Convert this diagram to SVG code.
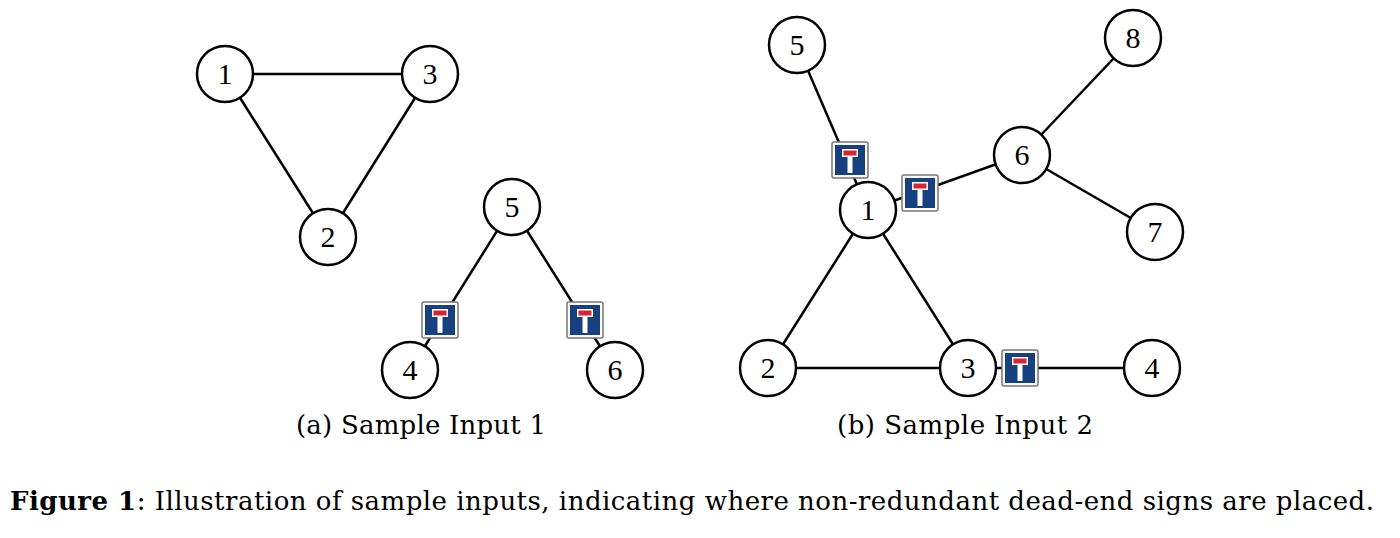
<svg xmlns="http://www.w3.org/2000/svg" width="1400" height="538" viewBox="0 0 1400 538">
<defs>
<style>
.n circle{fill:#fff;stroke:#000;stroke-width:2.5}
.n text{font-family:"Liberation Serif",serif;font-size:30px;text-anchor:middle}
.e line{stroke:#000;stroke-width:2.5}
.cap{font-family:"DejaVu Serif",serif;font-size:26px;text-anchor:middle}
</style>
<g id="sign">
<rect x="-18" y="-18" width="36" height="36" rx="2" fill="#fff" stroke="#777" stroke-width="1.5"/>
<rect x="-15" y="-15" width="30" height="30" fill="#17407e"/>
<rect x="-8" y="-11" width="16" height="8" fill="#fff"/>
<rect x="-6.5" y="-9.5" width="13" height="5" fill="#d9232e"/>
<rect x="-2.5" y="-3" width="5" height="16" fill="#fff"/>
</g>
</defs>
<rect width="1400" height="538" fill="#fff"/>
<g id="connectors" class="e">
<line x1="225" y1="74" x2="430" y2="74"/>
<line x1="225" y1="74" x2="328" y2="237"/>
<line x1="430" y1="74" x2="328" y2="237"/>
<line x1="512" y1="207" x2="410" y2="370"/>
<line x1="512" y1="207" x2="615" y2="370"/>
<line x1="797" y1="45" x2="868" y2="210"/>
<line x1="1133" y1="38" x2="1022" y2="155"/>
<line x1="868" y1="210" x2="1022" y2="155"/>
<line x1="1022" y1="155" x2="1155" y2="232"/>
<line x1="868" y1="210" x2="768" y2="368"/>
<line x1="868" y1="210" x2="968" y2="368"/>
<line x1="768" y1="368" x2="968" y2="368"/>
<line x1="968" y1="368" x2="1152" y2="368"/>
</g>
<g id="signs">
<use href="#sign" x="440" y="320"/>
<use href="#sign" x="585" y="320"/>
<use href="#sign" x="850" y="160"/>
<use href="#sign" x="920" y="193"/>
<use href="#sign" x="1020" y="368"/>
</g>
<g id="a1" class="n"><circle cx="225" cy="74" r="28"/><text x="225" y="84">1</text></g>
<g id="a3" class="n"><circle cx="430" cy="74" r="28"/><text x="430" y="84">3</text></g>
<g id="a2" class="n"><circle cx="328" cy="237" r="28"/><text x="328" y="247">2</text></g>
<g id="a5" class="n"><circle cx="512" cy="207" r="28"/><text x="512" y="217">5</text></g>
<g id="a4" class="n"><circle cx="410" cy="370" r="28"/><text x="410" y="380">4</text></g>
<g id="a6" class="n"><circle cx="615" cy="370" r="28"/><text x="615" y="380">6</text></g>
<g id="b5" class="n"><circle cx="797" cy="45" r="28"/><text x="797" y="55">5</text></g>
<g id="b8" class="n"><circle cx="1133" cy="38" r="28"/><text x="1133" y="48">8</text></g>
<g id="b6" class="n"><circle cx="1022" cy="155" r="28"/><text x="1022" y="165">6</text></g>
<g id="b1" class="n"><circle cx="868" cy="210" r="28"/><text x="868" y="220">1</text></g>
<g id="b7" class="n"><circle cx="1155" cy="232" r="28"/><text x="1155" y="242">7</text></g>
<g id="b2" class="n"><circle cx="768" cy="368" r="28"/><text x="768" y="378">2</text></g>
<g id="b3" class="n"><circle cx="968" cy="368" r="28"/><text x="968" y="378">3</text></g>
<g id="b4" class="n"><circle cx="1152" cy="368" r="28"/><text x="1152" y="378">4</text></g>
<text class="cap" x="421" y="434" textLength="250">(a) Sample Input 1</text>
<text class="cap" x="965" y="434" textLength="256">(b) Sample Input 2</text>
<text class="cap" x="692" y="510" textLength="1364"><tspan font-weight="bold">Figure 1</tspan>: Illustration of sample inputs, indicating where non-redundant dead-end signs are placed.</text>
</svg>
